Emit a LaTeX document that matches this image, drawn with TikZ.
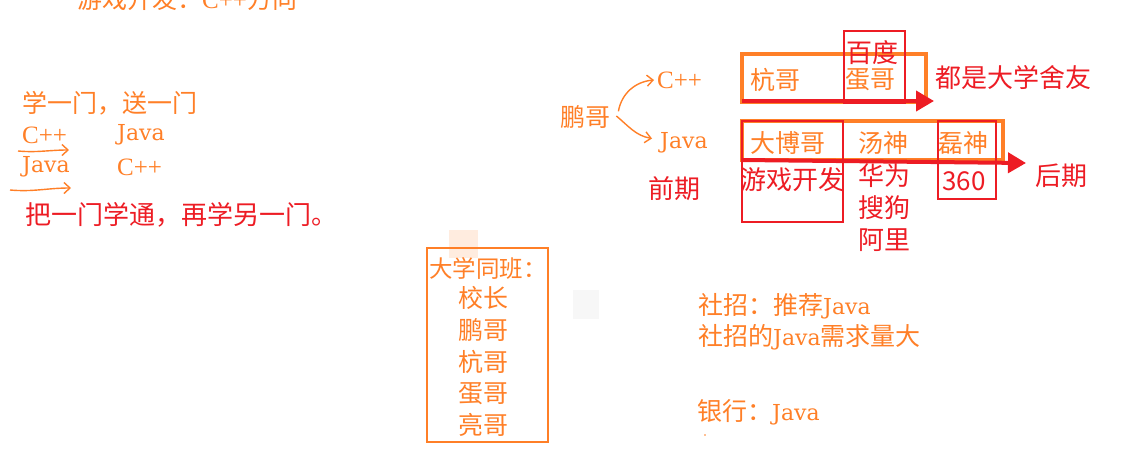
\documentclass[tikz,border=0pt]{standalone}
\usepackage{fontspec}
\setmainfont{Noto Sans CJK SC}
\newfontfamily\latn{DejaVu Serif}
\newfontfamily\latb{Liberation Serif}
\usetikzlibrary{arrows.meta,positioning}
\definecolor{pen}{HTML}{FF7F27}
\definecolor{ink}{HTML}{ED1C24}
\newcommand{\lt}[1]{{\latn\fontsize{22}{26}\selectfont #1}}
\newcommand{\cp}{{\latb\fontsize{25}{28}\selectfont C++}}

\begin{document}
\begin{tikzpicture}[x=1pt, y=-1pt, otxt/.style={text=pen, font=\fontsize{25}{28}\selectfont, inner sep=0pt, anchor=west}, rtxt/.style={text=ink, font=\fontsize{26}{30}\selectfont, inner sep=0pt, anchor=west}, obox/.style={draw=pen, line width=4pt, inner sep=0pt}, rbox/.style={draw=ink, line width=2pt, inner sep=0pt}, harr/.style={draw=pen, line width=1.4pt, -{Straight Barb[length=6pt, width=11pt]}}, rarr/.style={draw=ink, line width=4pt, -{Triangle[length=18pt, width=20pt]}}]
\useasboundingbox (0,0) rectangle (1145,451);
% left: learning order
\node[otxt] (top) at (77,-1) {游戏开发：\cp 方向};
\node[otxt] (learn) at (22,103) {学一门，送一门};
\node[otxt] (c1) at (22,135) {\cp};
\node[otxt] (j1) at (117,135) {\lt{Java}};
\node[otxt] (j2) at (22,167) {\lt{Java}};
\node[otxt] (c2) at (117,167) {\cp};
\coordinate (h1s) at (18,151);
\coordinate (h1e) at (69,150);
\coordinate (h2s) at (10,190);
\coordinate (h2e) at (71,188);
\draw[harr] (h1s) to[out=-5, in=180] (h1e);
\draw[harr] (h2s) to[out=-5, in=180] (h2e);
\node[rtxt] (tong) at (25,215) {把一门学通，再学另一门。};
% right: 鹏哥 and the two lines
\node[otxt] (pg) at (560,117) {鹏哥};
\node[otxt] (cpp) at (657,80) {\cp};
\node[otxt] (jav) at (660,143) {\lt{Java}};
\draw[harr] ([xshift=8pt, yshift=-6pt]pg.north east) to[out=80, in=185] ([xshift=-3pt]cpp.west);
\draw[harr] ([xshift=6pt, yshift=1pt]pg.east) to[out=-40, in=170] ([xshift=-8pt, yshift=-6pt]jav.north west);
\node[obox, minimum width=184, minimum height=48] (ob1) at (834,77.5) {};
\node[otxt] (hang) at (750,80) {杭哥};
\node[otxt] (dan) at (845,80) {蛋哥};
\node[rbox, minimum width=61, minimum height=72] (bdbox) at (874.5,67) {};
\node[rtxt] (baidu) at (846,53) {百度};
\coordinate (r1s) at (742,101);
\coordinate (r1e) at (934,101);
\draw[rarr] (r1s) -- (r1e);
\node[rtxt] (shy) at (935,78) {都是大学舍友};
\node[obox, minimum width=261, minimum height=39] (ob2) at (872.5,140.5) {};
\node[otxt] (dbg) at (750,143) {大博哥};
\node[otxt] (ts) at (858,143) {汤神};
\node[otxt] (ls) at (938,143) {磊神};
\node[rbox, minimum width=101, minimum height=101] (yxbox) at (792.5,171.5) {};
\node[rbox, minimum width=58, minimum height=78] (sbox) at (967,160) {};
\coordinate (r2s) at (742,160);
\coordinate (r2e) at (1026,163);
\draw[rarr] (r2s) -- (r2e);
\node[rtxt] (qq) at (648,189) {前期};
\node[rtxt] (yxkf) at (740,180) {游戏开发};
\node[rtxt] (hw) at (858,176) {华为};
\node[rtxt] (sg) at (858,208) {搜狗};
\node[rtxt] (al) at (858,240) {阿里};
\node[rtxt] (n360) at (942,181) {360};
\node[rtxt] (hq) at (1035,176) {后期};
% bottom: classmates, recruiting
\fill[pen!15] (449,230) rectangle (478,258);
\fill[black!3] (573,290) rectangle (599,319);
\node[draw=pen, line width=2.5pt, minimum width=121, minimum height=194, inner sep=0pt] (tb) at (487.5,345) {};
\node[otxt, font=\fontsize{23.5}{27}\selectfont] (dxtb) at (429,268) {大学同班：};
\foreach \n/\y [count=\i] in {校长/298, 鹏哥/330, 杭哥/362, 蛋哥/394, 亮哥/425}
  \node[otxt] (m\i) at (458,\y) {\n};
\node[otxt] (sz1) at (698,306) {社招：推荐\lt{Java}};
\node[otxt] (sz2) at (698,337) {社招的\lt{Java}需求量大};
\node[otxt] (yh) at (697,412) {银行：\lt{Java}};
\fill[pen] (705,435) circle (0.8);
\end{tikzpicture}
\end{document}
